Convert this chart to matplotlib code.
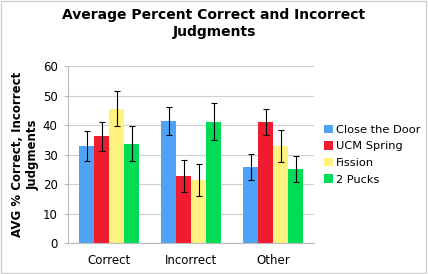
import matplotlib
matplotlib.use("Agg")
import matplotlib.pyplot as plt
import numpy as np

categories = ["Correct", "Incorrect", "Other"]
series = ["Close the Door", "UCM Spring", "Fission", "2 Pucks"]
close_door = [32.9, 41.4, 25.8]
ucm_spring = [36.2, 22.7, 41.1]
fission = [45.6, 21.4, 32.9]
pucks = [33.7, 41.1, 25.2]
close_door_err = [5.0, 4.8, 4.5]
ucm_spring_err = [4.9, 5.3, 4.4]
fission_err = [6.0, 5.5, 5.3]
pucks_err = [6.0, 6.3, 4.4]
colors = ["#4FA3F7", "#EE1C2E", "#FFF27E", "#00DD55"]

values = [close_door, ucm_spring, fission, pucks]
errs = [close_door_err, ucm_spring_err, fission_err, pucks_err]

fig = plt.figure(figsize=(4.28, 2.74), dpi=100)
fig.patches.append(plt.Rectangle((0.002, 0.004), 0.994, 0.992, transform=fig.transFigure,
                                 fill=False, edgecolor="#CFCFCF", linewidth=1))
ax = fig.add_axes([0.159, 0.113, 0.575, 0.646])

x = np.arange(len(categories))
w = 0.183
for i, (vals, er, c, name) in enumerate(zip(values, errs, colors, series)):
    ax.bar(x + (i - 1.5) * w, vals, w, color=c, label=name, zorder=2,
           yerr=er, error_kw=dict(ecolor="black", elinewidth=0.8, capsize=2.5, capthick=0.8, zorder=3))

ax.set_xlim(-0.5, 2.5)
ax.set_ylim(0, 60)
ax.set_yticks(range(0, 61, 10))
ax.set_xticks(x)
ax.set_xticklabels(categories)
ax.yaxis.grid(True, color="#D0D0D0", linewidth=0.8, zorder=0)
ax.set_axisbelow(True)
for s in ["top", "right"]:
    ax.spines[s].set_visible(False)
ax.spines["left"].set_color("#BBBBBB")
ax.spines["bottom"].set_color("#BBBBBB")
ax.tick_params(axis="y", length=3, color="#BBBBBB", labelsize=8.5, pad=4.5)
ax.tick_params(axis="x", length=0, labelsize=8.5, pad=8)

fig.text(0.059, 0.437, "AVG % Correct, Incorrect\nJudgments", fontsize=8.5, fontweight="bold",
         rotation=90, ha="center", va="center", multialignment="center", linespacing=1.3)
fig.suptitle("Average Percent Correct and Incorrect\nJudgments", fontsize=10, fontweight="bold",
             y=0.97, linespacing=1.25)

leg = ax.legend(loc="center left", bbox_to_anchor=(1.02, 0.5), frameon=False, fontsize=8.2,
                handlelength=0.8, handleheight=0.8, handletextpad=0.3, labelspacing=0.55,
                borderaxespad=0)

fig.savefig("out.png", dpi=100)
